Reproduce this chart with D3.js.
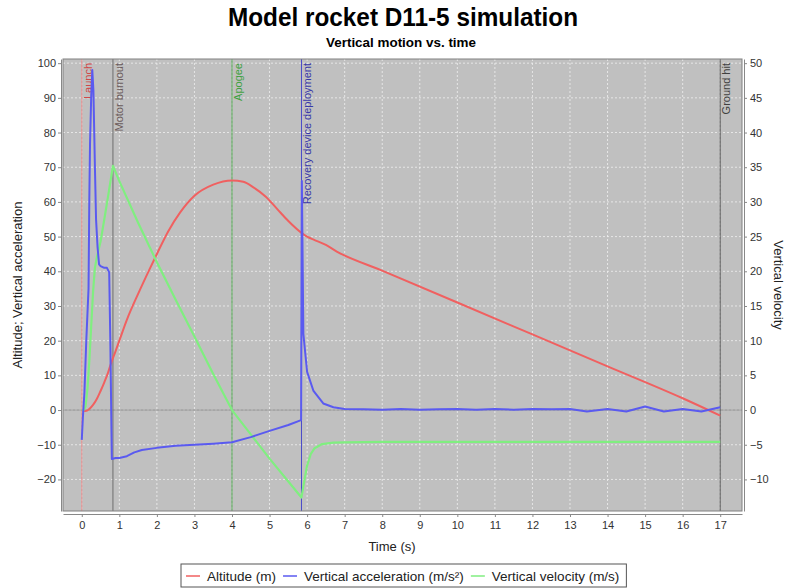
<!DOCTYPE html>
<html>
<head>
<meta charset="utf-8">
<script src="https://cdn.jsdelivr.net/npm/d3@7"></script>
<style>
  html, body { margin: 0; padding: 0; background: #ffffff; }
  svg { display: block; font-family: "Liberation Sans", Arial, sans-serif; }
</style>
</head>
<body>
<svg id="chart" width="788" height="588"></svg>
<script>
// ---------------- DATA ----------------
const chartTitle = "Model rocket D11-5 simulation";
const chartSubtitle = "Vertical motion vs. time";
const xAxisLabel = "Time (s)";
const leftAxisLabel = "Altitude; Vertical acceleration";
const rightAxisLabel = "Vertical velocity";

const timeTicks = [0,1,2,3,4,5,6,7,8,9,10,11,12,13,14,15,16,17];
const leftTicks = [-20,-10,0,10,20,30,40,50,60,70,80,90,100];
const rightTicks = [-10,-5,0,5,10,15,20,25,30,35,40,45,50];

const seriesNames = ["Altitude (m)", "Vertical acceleration (m/s\u00B2)", "Vertical velocity (m/s)"];

const altitudeTime = [0,0.1,0.2,0.3,0.4,0.5,0.6,0.7,0.78,0.9,1.0,1.2,1.5,1.8,2.0,2.3,2.62,3.0,3.5,4.0,4.3,4.57,4.9,5.2,5.5,5.86,6.0,6.2,6.5,6.79,7.95,10,12,14,16,17];
const altitudeValues = [0,-0.3,0.3,1.5,3.2,5.5,8,10.8,13.5,17,20,26,33.5,40.5,45,51.5,57,61.8,65,66.2,65.8,64.2,61.5,58,54.5,51,50,49,47.6,45.7,40.4,31,21.8,12.6,3.4,-1.6];

const accelTime = [0,0.03,0.07,0.12,0.18,0.2,0.22,0.25,0.28,0.31,0.35,0.38,0.42,0.46,0.5,0.6,0.67,0.73,0.76,0.8,0.9,1.0,1.2,1.4,1.6,2.0,2.5,3.0,3.5,4.0,4.5,5.0,5.5,5.84,5.86,5.9,6.0,6.17,6.43,6.7,7.0,7.5,8,8.5,9,9.5,10,10.5,11,11.5,12,12.5,13,13.45,14,14.5,15,15.5,16,16.5,17];
const accelValues = [-8.6,-2,5,20,35,60,77,90,98,92,70,55,47,42,41.5,41,41,39.7,20,-14.1,-13.8,-13.8,-13.3,-12.2,-11.5,-10.9,-10.3,-10,-9.7,-9.3,-7.8,-6,-4.3,-2.9,66,22,11,5.5,1.9,0.8,0.3,0.2,0.1,0.3,0.1,0.2,0.3,0.1,0.3,0.1,0.3,0.2,0.3,-0.4,0.3,-0.4,1.0,-0.4,0.3,-0.4,0.8];

const velocityTime = [0,0.05,0.1,0.15,0.2,0.25,0.3,0.35,0.4,0.5,0.6,0.7,0.83,1.0,1.5,2.0,2.5,3.0,3.5,4.0,4.5,5.0,5.5,5.85,5.9,6.0,6.1,6.2,6.4,6.7,7,8,10,12,14,16,17];
const velocityValues = [0,0,0.5,3,7,12,17,20.5,22,24.3,27.5,30.8,35.2,33,27,21.3,15.9,10.6,5.2,0,-3.5,-7,-10.3,-12.6,-11,-8,-6.3,-5.5,-4.9,-4.7,-4.65,-4.6,-4.6,-4.6,-4.6,-4.6,-4.6];

const eventTimes = [0, 0.83, 4.0, 5.85, 17];
const eventLabels = ["Launch", "Motor burnout", "Apogee", "Recovery device deployment", "Ground hit"];

// ---------------- STYLE ----------------
const seriesColors = ["#f06060", "#5a5af0", "#80ee80"];
const eventColors = ["#e89090", "#6e6e6e", "#55a855", "#4848c8", "#5a5a5a"];
const eventTextColors = ["#d04848", "#6a5a5a", "#40a040", "#3838a8", "#404040"];

const svg = d3.select("#chart");
const plot = { left: 63, right: 742, top: 59, bottom: 511 };

const x = d3.scaleLinear().domain([-0.5, 17.58]).range([plot.left, plot.right]);
const yL = d3.scaleLinear().domain([-29.1, 101.2]).range([plot.bottom, plot.top]);
const yR = d3.scaleLinear().domain([-14.55, 50.6]).range([plot.bottom, plot.top]);

// Titles
svg.append("text").attr("x", 403).attr("y", 26).attr("text-anchor", "middle")
  .attr("font-size", 25).attr("font-weight", "bold").attr("fill", "#000")
  .attr("textLength", 350).attr("lengthAdjust", "spacingAndGlyphs")
  .text(chartTitle);
svg.append("text").attr("x", 401).attr("y", 47).attr("text-anchor", "middle")
  .attr("font-size", 13).attr("font-weight", "bold").attr("fill", "#000")
  .attr("textLength", 150).attr("lengthAdjust", "spacingAndGlyphs")
  .text(chartSubtitle);

// Plot background
svg.append("rect").attr("x", plot.left).attr("y", plot.top)
  .attr("width", plot.right - plot.left).attr("height", plot.bottom - plot.top)
  .attr("fill", "#c0c0c0");

// Grid
const grid = svg.append("g");
grid.selectAll("line.v").data(timeTicks).enter().append("line")
  .attr("x1", d => x(d)).attr("x2", d => x(d))
  .attr("y1", plot.top).attr("y2", plot.bottom)
  .attr("stroke", "#f0f0f0").attr("stroke-width", 0.8).attr("stroke-dasharray", "2,2");
grid.selectAll("line.h").data(leftTicks).enter().append("line")
  .attr("x1", plot.left).attr("x2", plot.right)
  .attr("y1", d => yL(d)).attr("y2", d => yL(d))
  .attr("stroke", "#f0f0f0").attr("stroke-width", 0.8).attr("stroke-dasharray", "2,2");
// zero baseline
svg.append("line").attr("x1", plot.left).attr("x2", plot.right)
  .attr("y1", yL(0)).attr("y2", yL(0)).attr("stroke", "#909090").attr("stroke-width", 1);

// Event markers
const ev = svg.append("g");
eventTimes.forEach((t, i) => {
  ev.append("line").attr("x1", x(t)).attr("x2", x(t))
    .attr("y1", plot.top).attr("y2", plot.bottom)
    .attr("stroke", eventColors[i]).attr("stroke-width", 1);
  ev.append("text")
    .attr("transform", `translate(${x(t) + 10},${plot.top + 4}) rotate(-90)`)
    .attr("text-anchor", "end").attr("font-size", 11)
    .attr("fill", eventTextColors[i]).text(eventLabels[i]);
});

// Lines
const lineL = d3.line().x(d => x(d[0])).y(d => yL(d[1]));
const lineSmoothL = d3.line().x(d => x(d[0])).y(d => yL(d[1])).curve(d3.curveMonotoneX);
const lineR = d3.line().x(d => x(d[0])).y(d => yR(d[1]));
const altData = d3.zip(altitudeTime, altitudeValues);
const accData = d3.zip(accelTime, accelValues);
const velData = d3.zip(velocityTime, velocityValues);

svg.append("clipPath").attr("id", "clip").append("rect")
  .attr("x", plot.left).attr("y", plot.top)
  .attr("width", plot.right - plot.left).attr("height", plot.bottom - plot.top);
const lines = svg.append("g").attr("clip-path", "url(#clip)");
lines.append("path").datum(altData).attr("d", lineSmoothL).attr("fill", "none")
  .attr("stroke", seriesColors[0]).attr("stroke-width", 2).attr("stroke-linejoin", "round");
lines.append("path").datum(velData).attr("d", lineR).attr("fill", "none")
  .attr("stroke", seriesColors[2]).attr("stroke-width", 2.2).attr("stroke-linejoin", "round");
lines.append("path").datum(accData).attr("d", lineL).attr("fill", "none")
  .attr("stroke", seriesColors[1]).attr("stroke-width", 2).attr("stroke-linejoin", "round");

// Plot outline
svg.append("rect").attr("x", plot.left).attr("y", plot.top)
  .attr("width", plot.right - plot.left).attr("height", plot.bottom - plot.top)
  .attr("fill", "none").attr("stroke", "#808080").attr("stroke-width", 1);

// Axes
function styleAxis(g) {
  g.select(".domain").attr("stroke", "#888");
  g.selectAll(".tick line").attr("stroke", "#888");
  g.selectAll(".tick text").attr("fill", "#333").attr("font-size", 11)
    .attr("font-family", "'Liberation Sans', Arial, sans-serif");
}
svg.append("g").attr("transform", `translate(0,${plot.bottom + 3})`)
  .call(d3.axisBottom(x).tickValues(timeTicks).tickSize(3).tickSizeOuter(0).tickPadding(4).tickFormat(d3.format("d")))
  .call(styleAxis);
svg.append("g").attr("transform", `translate(${plot.left - 2},0)`)
  .call(d3.axisLeft(yL).tickValues(leftTicks).tickSize(3).tickSizeOuter(0).tickPadding(2).tickFormat(d3.format("d")))
  .call(styleAxis);
svg.append("g").attr("transform", `translate(${plot.right + 2},0)`)
  .call(d3.axisRight(yR).tickValues(rightTicks).tickSize(3).tickSizeOuter(0).tickPadding(3).tickFormat(d3.format("d")))
  .call(styleAxis);

// Axis labels
svg.append("text").attr("x", 392).attr("y", 551).attr("text-anchor", "middle")
  .attr("font-size", 13).attr("fill", "#222").text(xAxisLabel);
svg.append("text").attr("transform", `translate(22,285) rotate(-90)`)
  .attr("text-anchor", "middle").attr("font-size", 13).attr("fill", "#222").text(leftAxisLabel);
svg.append("text").attr("transform", `translate(774,285) rotate(90)`)
  .attr("text-anchor", "middle").attr("font-size", 13).attr("fill", "#222").text(rightAxisLabel);

// Legend
const legend = svg.append("g");
const legendBox = legend.append("rect").attr("y", 564).attr("height", 23)
  .attr("fill", "#fff").attr("stroke", "#555").attr("stroke-width", 1);
let lx = 186;
seriesNames.forEach((name, i) => {
  legend.append("line").attr("x1", lx).attr("x2", lx + 14).attr("y1", 576).attr("y2", 576)
    .attr("stroke", seriesColors[i]).attr("stroke-width", 1.5);
  const t = legend.append("text").attr("x", lx + 21).attr("y", 580.5)
    .attr("font-size", 13.5).attr("fill", "#222").text(name);
  lx += 21 + t.node().getComputedTextLength() + 7;
});
legendBox.attr("x", 181).attr("width", lx - 181);
</script>
</body>
</html>
